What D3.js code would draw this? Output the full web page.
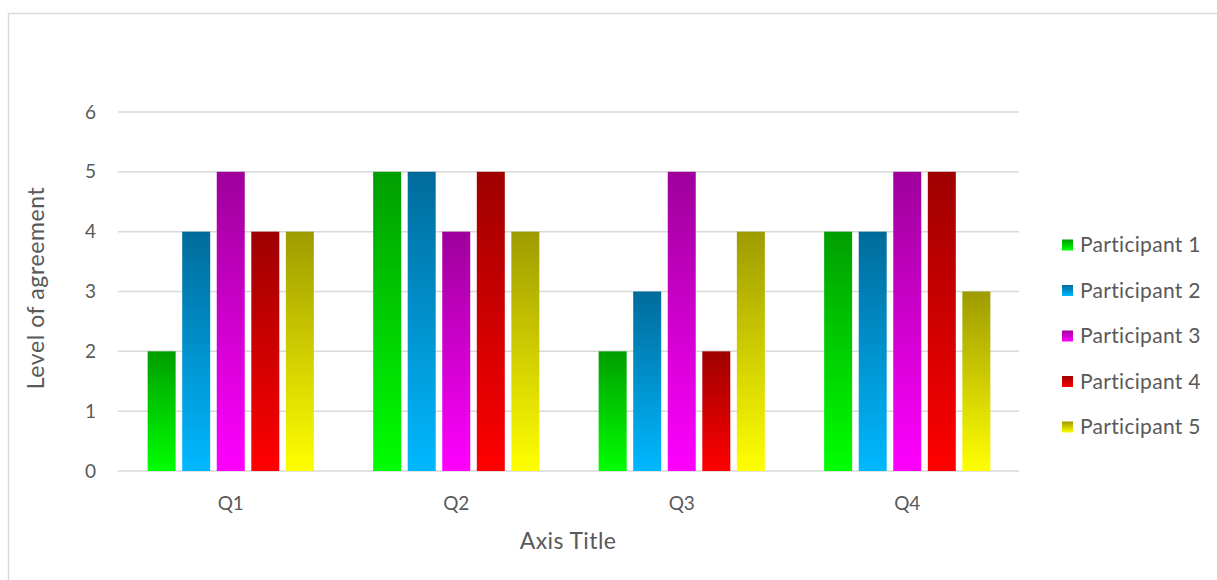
<!DOCTYPE html>
<html><head><meta charset="utf-8">
<script src="https://cdn.jsdelivr.net/npm/d3@7"></script>
<style>body{margin:0;background:#fff}svg{display:block}text{font-family:Lato,"Open Sans",sans-serif;fill:#595959}</style>
</head><body>
<svg id="c" width="1217" height="580"></svg>
<script>
const categories = ["Q1","Q2","Q3","Q4"];
const series = ["Participant 1","Participant 2","Participant 3","Participant 4","Participant 5"];
const values = [
  [2,5,2,4],
  [4,5,3,4],
  [5,4,5,5],
  [4,5,2,5],
  [4,4,4,3]
];
const yTicks = [0,1,2,3,4,5,6];
const topColors = ["#009e00","#006b9b","#9e009b","#9e0000","#9e9b00"];
const bottomColors = ["#00ff00","#00b8ff","#ff00ff","#ff0000","#ffff00"];

const svg = d3.select("#c");
const defs = svg.append("defs");
series.forEach((s,i)=>{
  const g = defs.append("linearGradient").attr("id","g"+i).attr("x1",0).attr("y1",0).attr("x2",0).attr("y2",1);
  g.append("stop").attr("offset","0%").attr("stop-color",topColors[i]);
  g.append("stop").attr("offset","100%").attr("stop-color",bottomColors[i]);
});

// outer border
svg.append("rect").attr("x",8.5).attr("y",13.5).attr("width",1230).attr("height",600)
  .attr("fill","none").attr("stroke","#d9d9d9").attr("stroke-width",1.5);

const x0 = d3.scaleBand().domain(categories).range([118,1020]).paddingInner(0.263).paddingOuter(0.1315);
const x1 = d3.scaleBand().domain(series).range([0,x0.bandwidth()]).paddingInner(0.19);
const y = d3.scaleLinear().domain([0,6]).range([471,112]);

// gridlines
svg.append("g").selectAll("line").data(yTicks).join("line")
  .attr("x1",118).attr("x2",1019).attr("y1",d=>y(d)).attr("y2",d=>y(d))
  .attr("stroke","#d9d9d9").attr("stroke-width",1.5);

// y tick labels
const yAxis = svg.append("g").attr("transform","translate(96,0)")
  .call(d3.axisLeft(y).tickValues(yTicks).tickFormat(d3.format("d")).tickSize(0).tickPadding(0));
yAxis.select(".domain").remove();
yAxis.selectAll("text").attr("font-size",19).style("font-family","Lato,sans-serif").attr("fill","#595959");

// bars
const groups = svg.append("g").selectAll("g").data(categories).join("g")
  .attr("transform",d=>`translate(${x0(d)},0)`);
groups.selectAll("rect").data((c,ci)=>series.map((s,si)=>({s,si,v:values[si][ci]}))).join("rect")
  .attr("x",d=>x1(d.s)).attr("width",x1.bandwidth())
  .attr("y",d=>y(d.v)).attr("height",d=>y(0)-y(d.v))
  .attr("fill",d=>`url(#g${d.si})`);

// x axis labels
const xAxis = svg.append("g").attr("transform","translate(0,471)")
  .call(d3.axisBottom(x0).tickSize(0).tickPadding(26));
xAxis.select(".domain").remove();
xAxis.selectAll("text").attr("font-size",19).style("font-family","Lato,sans-serif").attr("fill","#595959");

// axis titles
svg.append("text").attr("x",568).attr("y",549).attr("text-anchor","middle").attr("font-size",23).style("letter-spacing","0.4px").text("Axis Title");
svg.append("text").attr("transform","translate(44,288) rotate(-90)").attr("text-anchor","middle").attr("font-size",23).style("letter-spacing","0.6px").text("Level of agreement");

// legend
const lg = svg.append("g").selectAll("g").data(series).join("g")
  .attr("transform",(d,i)=>`translate(1062,${245+i*45.5})`);
lg.append("rect").attr("x",0).attr("y",-5.5).attr("width",11).attr("height",11).attr("fill",(d,i)=>`url(#g${i})`);
lg.append("text").attr("x",18).attr("y",0).attr("dy","0.35em").attr("font-size",21).style("letter-spacing","0.3px").text(d=>d);
</script>
</body></html>
